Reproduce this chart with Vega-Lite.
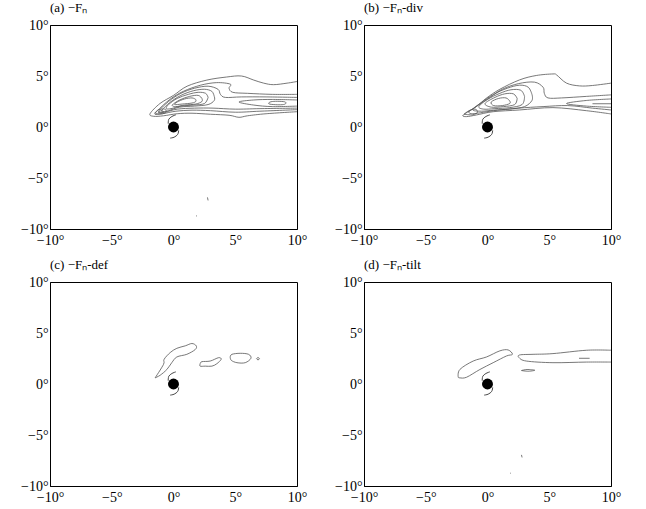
{
"$schema": "https://vega.github.io/schema/vega-lite/v6.json",
"background": "white",
"padding": {"left": 20, "top": 1, "right": 5, "bottom": 5},
"config": {
  "view": {"stroke": "black", "strokeWidth": 1},
  "font": "Liberation Serif"
},
"data": {"values": [
{"panel":"a","kind":"c","id":"a1","seq":1,"x":10,"y":4.46},{"panel":"a","kind":"c","id":"a1","seq":2,"x":9.2,"y":4.3},{"panel":"a","kind":"c","id":"a1","seq":3,"x":8.1,"y":4.15},{"panel":"a","kind":"c","id":"a1","seq":4,"x":7.3,"y":4.3},{"panel":"a","kind":"c","id":"a1","seq":5,"x":6.5,"y":4.6},{"panel":"a","kind":"c","id":"a1","seq":6,"x":5.5,"y":5.0},{"panel":"a","kind":"c","id":"a1","seq":7,"x":4.3,"y":4.9},{"panel":"a","kind":"c","id":"a1","seq":8,"x":2.7,"y":4.6},{"panel":"a","kind":"c","id":"a1","seq":9,"x":1.1,"y":4.0},{"panel":"a","kind":"c","id":"a1","seq":10,"x":0,"y":3.1},{"panel":"a","kind":"c","id":"a1","seq":11,"x":-1.1,"y":2.3},{"panel":"a","kind":"c","id":"a1","seq":12,"x":-1.9,"y":1.3},{"panel":"a","kind":"c","id":"a1","seq":13,"x":-1.6,"y":1.05},{"panel":"a","kind":"c","id":"a1","seq":14,"x":-0.8,"y":1.1},{"panel":"a","kind":"c","id":"a1","seq":15,"x":0.3,"y":1.3},{"panel":"a","kind":"c","id":"a1","seq":16,"x":1.5,"y":1.35},{"panel":"a","kind":"c","id":"a1","seq":17,"x":3,"y":1.25},{"panel":"a","kind":"c","id":"a1","seq":18,"x":4.5,"y":1.15},{"panel":"a","kind":"c","id":"a1","seq":19,"x":5.3,"y":0.95},{"panel":"a","kind":"c","id":"a1","seq":20,"x":6,"y":1.1},{"panel":"a","kind":"c","id":"a1","seq":21,"x":7.5,"y":1.3},{"panel":"a","kind":"c","id":"a1","seq":22,"x":10,"y":1.5},
{"panel":"a","kind":"c","id":"a2","seq":1,"x":10,"y":3.2},{"panel":"a","kind":"c","id":"a2","seq":2,"x":8,"y":3.2},{"panel":"a","kind":"c","id":"a2","seq":3,"x":6,"y":3.3},{"panel":"a","kind":"c","id":"a2","seq":4,"x":4.8,"y":3.4},{"panel":"a","kind":"c","id":"a2","seq":5,"x":4.5,"y":3.8},{"panel":"a","kind":"c","id":"a2","seq":6,"x":4.6,"y":4.2},{"panel":"a","kind":"c","id":"a2","seq":7,"x":3.5,"y":4.35},{"panel":"a","kind":"c","id":"a2","seq":8,"x":2.2,"y":4.1},{"panel":"a","kind":"c","id":"a2","seq":9,"x":0.8,"y":3.5},{"panel":"a","kind":"c","id":"a2","seq":10,"x":-0.3,"y":2.7},{"panel":"a","kind":"c","id":"a2","seq":11,"x":-1.3,"y":1.6},{"panel":"a","kind":"c","id":"a2","seq":12,"x":-1.5,"y":1.25},{"panel":"a","kind":"c","id":"a2","seq":13,"x":-0.9,"y":1.3},{"panel":"a","kind":"c","id":"a2","seq":14,"x":0.2,"y":1.55},{"panel":"a","kind":"c","id":"a2","seq":15,"x":1.5,"y":1.65},{"panel":"a","kind":"c","id":"a2","seq":16,"x":3,"y":1.6},{"panel":"a","kind":"c","id":"a2","seq":17,"x":5,"y":1.45},{"panel":"a","kind":"c","id":"a2","seq":18,"x":7,"y":1.55},{"panel":"a","kind":"c","id":"a2","seq":19,"x":10,"y":1.7},
{"panel":"a","kind":"c","id":"a3","seq":1,"x":10,"y":2.9},{"panel":"a","kind":"c","id":"a3","seq":2,"x":7.5,"y":2.95},{"panel":"a","kind":"c","id":"a3","seq":3,"x":5.5,"y":2.95},{"panel":"a","kind":"c","id":"a3","seq":4,"x":4.2,"y":2.9},{"panel":"a","kind":"c","id":"a3","seq":5,"x":3.8,"y":3.2},{"panel":"a","kind":"c","id":"a3","seq":6,"x":3.6,"y":3.7},{"panel":"a","kind":"c","id":"a3","seq":7,"x":2.8,"y":4.0},{"panel":"a","kind":"c","id":"a3","seq":8,"x":1.7,"y":3.8},{"panel":"a","kind":"c","id":"a3","seq":9,"x":0.6,"y":3.3},{"panel":"a","kind":"c","id":"a3","seq":10,"x":-0.4,"y":2.5},{"panel":"a","kind":"c","id":"a3","seq":11,"x":-1.1,"y":1.7},{"panel":"a","kind":"c","id":"a3","seq":12,"x":-1.2,"y":1.4},{"panel":"a","kind":"c","id":"a3","seq":13,"x":-0.7,"y":1.45},{"panel":"a","kind":"c","id":"a3","seq":14,"x":0.3,"y":1.75},{"panel":"a","kind":"c","id":"a3","seq":15,"x":1.7,"y":1.85},{"panel":"a","kind":"c","id":"a3","seq":16,"x":3.2,"y":1.85},{"panel":"a","kind":"c","id":"a3","seq":17,"x":5,"y":1.75},{"panel":"a","kind":"c","id":"a3","seq":18,"x":7,"y":1.8},{"panel":"a","kind":"c","id":"a3","seq":19,"x":10,"y":1.85},
{"panel":"a","kind":"c","id":"a4","seq":1,"x":10,"y":2.65},{"panel":"a","kind":"c","id":"a4","seq":2,"x":8,"y":2.7},{"panel":"a","kind":"c","id":"a4","seq":3,"x":6.5,"y":2.65},{"panel":"a","kind":"c","id":"a4","seq":4,"x":5.3,"y":2.45},{"panel":"a","kind":"c","id":"a4","seq":5,"x":6.5,"y":2.15},{"panel":"a","kind":"c","id":"a4","seq":6,"x":8,"y":2.0},{"panel":"a","kind":"c","id":"a4","seq":7,"x":10,"y":2.05},
{"panel":"a","kind":"c","id":"a5","seq":1,"x":7.7,"y":2.35},{"panel":"a","kind":"c","id":"a5","seq":2,"x":7.9,"y":2.48},{"panel":"a","kind":"c","id":"a5","seq":3,"x":8.4,"y":2.52},{"panel":"a","kind":"c","id":"a5","seq":4,"x":9.0,"y":2.47},{"panel":"a","kind":"c","id":"a5","seq":5,"x":9.1,"y":2.32},{"panel":"a","kind":"c","id":"a5","seq":6,"x":8.9,"y":2.2},{"panel":"a","kind":"c","id":"a5","seq":7,"x":8.4,"y":2.18},{"panel":"a","kind":"c","id":"a5","seq":8,"x":7.8,"y":2.24},{"panel":"a","kind":"c","id":"a5","seq":9,"x":7.7,"y":2.35},
{"panel":"a","kind":"c","id":"a6","seq":1,"x":3.3,"y":3.0},{"panel":"a","kind":"c","id":"a6","seq":2,"x":3.1,"y":3.5},{"panel":"a","kind":"c","id":"a6","seq":3,"x":2.5,"y":3.7},{"panel":"a","kind":"c","id":"a6","seq":4,"x":1.6,"y":3.55},{"panel":"a","kind":"c","id":"a6","seq":5,"x":0.6,"y":3.1},{"panel":"a","kind":"c","id":"a6","seq":6,"x":-0.3,"y":2.4},{"panel":"a","kind":"c","id":"a6","seq":7,"x":-0.9,"y":1.7},{"panel":"a","kind":"c","id":"a6","seq":8,"x":-0.9,"y":1.5},{"panel":"a","kind":"c","id":"a6","seq":9,"x":-0.4,"y":1.6},{"panel":"a","kind":"c","id":"a6","seq":10,"x":0.5,"y":1.95},{"panel":"a","kind":"c","id":"a6","seq":11,"x":1.7,"y":2.05},{"panel":"a","kind":"c","id":"a6","seq":12,"x":2.8,"y":2.2},{"panel":"a","kind":"c","id":"a6","seq":13,"x":3.3,"y":2.6},{"panel":"a","kind":"c","id":"a6","seq":14,"x":3.3,"y":3.0},
{"panel":"a","kind":"c","id":"a7","seq":1,"x":2.8,"y":2.9},{"panel":"a","kind":"c","id":"a7","seq":2,"x":2.6,"y":3.3},{"panel":"a","kind":"c","id":"a7","seq":3,"x":2.0,"y":3.4},{"panel":"a","kind":"c","id":"a7","seq":4,"x":1.2,"y":3.2},{"panel":"a","kind":"c","id":"a7","seq":5,"x":0.3,"y":2.8},{"panel":"a","kind":"c","id":"a7","seq":6,"x":-0.4,"y":2.2},{"panel":"a","kind":"c","id":"a7","seq":7,"x":-0.6,"y":1.8},{"panel":"a","kind":"c","id":"a7","seq":8,"x":-0.2,"y":1.8},{"panel":"a","kind":"c","id":"a7","seq":9,"x":0.6,"y":2.05},{"panel":"a","kind":"c","id":"a7","seq":10,"x":1.6,"y":2.15},{"panel":"a","kind":"c","id":"a7","seq":11,"x":2.5,"y":2.3},{"panel":"a","kind":"c","id":"a7","seq":12,"x":2.8,"y":2.9},
{"panel":"a","kind":"c","id":"a8","seq":1,"x":2.3,"y":2.8},{"panel":"a","kind":"c","id":"a8","seq":2,"x":2.0,"y":3.1},{"panel":"a","kind":"c","id":"a8","seq":3,"x":1.3,"y":3.0},{"panel":"a","kind":"c","id":"a8","seq":4,"x":0.5,"y":2.65},{"panel":"a","kind":"c","id":"a8","seq":5,"x":-0.1,"y":2.15},{"panel":"a","kind":"c","id":"a8","seq":6,"x":0.2,"y":2.0},{"panel":"a","kind":"c","id":"a8","seq":7,"x":0.9,"y":2.15},{"panel":"a","kind":"c","id":"a8","seq":8,"x":1.8,"y":2.25},{"panel":"a","kind":"c","id":"a8","seq":9,"x":2.3,"y":2.5},{"panel":"a","kind":"c","id":"a8","seq":10,"x":2.3,"y":2.8},
{"panel":"a","kind":"c","id":"a9","seq":1,"x":1.8,"y":2.7},{"panel":"a","kind":"c","id":"a9","seq":2,"x":1.5,"y":2.85},{"panel":"a","kind":"c","id":"a9","seq":3,"x":0.9,"y":2.75},{"panel":"a","kind":"c","id":"a9","seq":4,"x":0.3,"y":2.45},{"panel":"a","kind":"c","id":"a9","seq":5,"x":0.1,"y":2.2},{"panel":"a","kind":"c","id":"a9","seq":6,"x":0.7,"y":2.25},{"panel":"a","kind":"c","id":"a9","seq":7,"x":1.5,"y":2.35},{"panel":"a","kind":"c","id":"a9","seq":8,"x":1.8,"y":2.5},{"panel":"a","kind":"c","id":"a9","seq":9,"x":1.8,"y":2.7},
{"panel":"a","kind":"c","id":"a10","seq":1,"x":-1.5,"y":1.4},{"panel":"a","kind":"c","id":"a10","seq":2,"x":-1.2,"y":1.7},{"panel":"a","kind":"c","id":"a10","seq":3,"x":-0.7,"y":1.75},{"panel":"a","kind":"c","id":"a10","seq":4,"x":-0.6,"y":1.45},{"panel":"a","kind":"c","id":"a10","seq":5,"x":-0.9,"y":1.3},{"panel":"a","kind":"c","id":"a10","seq":6,"x":-1.3,"y":1.3},{"panel":"a","kind":"c","id":"a10","seq":7,"x":-1.5,"y":1.4},
{"panel":"a","kind":"c","id":"a11","seq":1,"x":-1.2,"y":1.45},{"panel":"a","kind":"c","id":"a11","seq":2,"x":-1.0,"y":1.6},{"panel":"a","kind":"c","id":"a11","seq":3,"x":-0.8,"y":1.5},{"panel":"a","kind":"c","id":"a11","seq":4,"x":-1.0,"y":1.4},{"panel":"a","kind":"c","id":"a11","seq":5,"x":-1.2,"y":1.45},
{"panel":"a","kind":"c","id":"a12","seq":1,"x":2.75,"y":-6.9},{"panel":"a","kind":"c","id":"a12","seq":2,"x":2.8,"y":-7.2},
{"panel":"a","kind":"c","id":"a13","seq":1,"x":1.83,"y":-8.68},{"panel":"a","kind":"c","id":"a13","seq":2,"x":1.9,"y":-8.76},
{"panel":"b","kind":"c","id":"b1","seq":1,"x":10,"y":4.3},{"panel":"b","kind":"c","id":"b1","seq":2,"x":8.5,"y":4.07},{"panel":"b","kind":"c","id":"b1","seq":3,"x":7.45,"y":4.03},{"panel":"b","kind":"c","id":"b1","seq":4,"x":6.4,"y":4.3},{"panel":"b","kind":"c","id":"b1","seq":5,"x":5.6,"y":5.1},{"panel":"b","kind":"c","id":"b1","seq":6,"x":5.3,"y":5.2},{"panel":"b","kind":"c","id":"b1","seq":7,"x":3.95,"y":5.05},{"panel":"b","kind":"c","id":"b1","seq":8,"x":2.6,"y":4.62},{"panel":"b","kind":"c","id":"b1","seq":9,"x":1.0,"y":3.7},{"panel":"b","kind":"c","id":"b1","seq":10,"x":-0.1,"y":2.82},{"panel":"b","kind":"c","id":"b1","seq":11,"x":-0.9,"y":2.0},{"panel":"b","kind":"c","id":"b1","seq":12,"x":-1.96,"y":1.18},{"panel":"b","kind":"c","id":"b1","seq":13,"x":-1.7,"y":1.02},{"panel":"b","kind":"c","id":"b1","seq":14,"x":-0.9,"y":1.18},{"panel":"b","kind":"c","id":"b1","seq":15,"x":0.46,"y":1.5},{"panel":"b","kind":"c","id":"b1","seq":16,"x":2.6,"y":1.67},{"panel":"b","kind":"c","id":"b1","seq":17,"x":5.3,"y":1.9},{"panel":"b","kind":"c","id":"b1","seq":18,"x":8,"y":1.6},{"panel":"b","kind":"c","id":"b1","seq":19,"x":10,"y":1.28},
{"panel":"b","kind":"c","id":"b2","seq":1,"x":10,"y":3.15},{"panel":"b","kind":"c","id":"b2","seq":2,"x":8,"y":3.0},{"panel":"b","kind":"c","id":"b2","seq":3,"x":6,"y":2.85},{"panel":"b","kind":"c","id":"b2","seq":4,"x":4.9,"y":2.85},{"panel":"b","kind":"c","id":"b2","seq":5,"x":4.6,"y":3.3},{"panel":"b","kind":"c","id":"b2","seq":6,"x":4.5,"y":3.9},{"panel":"b","kind":"c","id":"b2","seq":7,"x":3.8,"y":4.4},{"panel":"b","kind":"c","id":"b2","seq":8,"x":2.5,"y":4.25},{"panel":"b","kind":"c","id":"b2","seq":9,"x":1.2,"y":3.7},{"panel":"b","kind":"c","id":"b2","seq":10,"x":0.2,"y":2.9},{"panel":"b","kind":"c","id":"b2","seq":11,"x":-0.8,"y":2.1},{"panel":"b","kind":"c","id":"b2","seq":12,"x":-1.5,"y":1.5},{"panel":"b","kind":"c","id":"b2","seq":13,"x":-1.2,"y":1.3},{"panel":"b","kind":"c","id":"b2","seq":14,"x":-0.3,"y":1.45},{"panel":"b","kind":"c","id":"b2","seq":15,"x":0.8,"y":1.65},{"panel":"b","kind":"c","id":"b2","seq":16,"x":2.5,"y":1.85},{"panel":"b","kind":"c","id":"b2","seq":17,"x":4.5,"y":2.0},{"panel":"b","kind":"c","id":"b2","seq":18,"x":6.5,"y":2.1},{"panel":"b","kind":"c","id":"b2","seq":19,"x":8.5,"y":1.85},{"panel":"b","kind":"c","id":"b2","seq":20,"x":10,"y":1.67},
{"panel":"b","kind":"c","id":"b3","seq":1,"x":10,"y":2.75},{"panel":"b","kind":"c","id":"b3","seq":2,"x":8,"y":2.6},{"panel":"b","kind":"c","id":"b3","seq":3,"x":6.4,"y":2.3},{"panel":"b","kind":"c","id":"b3","seq":4,"x":8,"y":2.05},{"panel":"b","kind":"c","id":"b3","seq":5,"x":10,"y":1.93},
{"panel":"b","kind":"c","id":"b9","seq":1,"x":8.5,"y":2.28},{"panel":"b","kind":"c","id":"b9","seq":2,"x":10,"y":2.28},
{"panel":"b","kind":"c","id":"b4","seq":1,"x":3.6,"y":3.2},{"panel":"b","kind":"c","id":"b4","seq":2,"x":3.3,"y":3.9},{"panel":"b","kind":"c","id":"b4","seq":3,"x":2.6,"y":4.1},{"panel":"b","kind":"c","id":"b4","seq":4,"x":1.6,"y":3.8},{"panel":"b","kind":"c","id":"b4","seq":5,"x":0.5,"y":3.2},{"panel":"b","kind":"c","id":"b4","seq":6,"x":-0.5,"y":2.4},{"panel":"b","kind":"c","id":"b4","seq":7,"x":-1.2,"y":1.7},{"panel":"b","kind":"c","id":"b4","seq":8,"x":-0.5,"y":1.55},{"panel":"b","kind":"c","id":"b4","seq":9,"x":0.5,"y":1.65},{"panel":"b","kind":"c","id":"b4","seq":10,"x":1.8,"y":1.75},{"panel":"b","kind":"c","id":"b4","seq":11,"x":3.0,"y":2.0},{"panel":"b","kind":"c","id":"b4","seq":12,"x":3.6,"y":2.6},{"panel":"b","kind":"c","id":"b4","seq":13,"x":3.6,"y":3.2},
{"panel":"b","kind":"c","id":"b5","seq":1,"x":3.0,"y":3.0},{"panel":"b","kind":"c","id":"b5","seq":2,"x":2.7,"y":3.6},{"panel":"b","kind":"c","id":"b5","seq":3,"x":1.9,"y":3.65},{"panel":"b","kind":"c","id":"b5","seq":4,"x":1.0,"y":3.3},{"panel":"b","kind":"c","id":"b5","seq":5,"x":0.0,"y":2.7},{"panel":"b","kind":"c","id":"b5","seq":6,"x":-0.7,"y":2.0},{"panel":"b","kind":"c","id":"b5","seq":7,"x":-0.3,"y":1.75},{"panel":"b","kind":"c","id":"b5","seq":8,"x":0.6,"y":1.8},{"panel":"b","kind":"c","id":"b5","seq":9,"x":1.8,"y":1.9},{"panel":"b","kind":"c","id":"b5","seq":10,"x":2.8,"y":2.2},{"panel":"b","kind":"c","id":"b5","seq":11,"x":3.0,"y":3.0},
{"panel":"b","kind":"c","id":"b6","seq":1,"x":2.4,"y":2.8},{"panel":"b","kind":"c","id":"b6","seq":2,"x":2.1,"y":3.25},{"panel":"b","kind":"c","id":"b6","seq":3,"x":1.4,"y":3.25},{"panel":"b","kind":"c","id":"b6","seq":4,"x":0.6,"y":2.9},{"panel":"b","kind":"c","id":"b6","seq":5,"x":-0.2,"y":2.3},{"panel":"b","kind":"c","id":"b6","seq":6,"x":0.3,"y":1.95},{"panel":"b","kind":"c","id":"b6","seq":7,"x":1.3,"y":2.0},{"panel":"b","kind":"c","id":"b6","seq":8,"x":2.2,"y":2.2},{"panel":"b","kind":"c","id":"b6","seq":9,"x":2.4,"y":2.8},
{"panel":"b","kind":"c","id":"b7","seq":1,"x":1.8,"y":2.55},{"panel":"b","kind":"c","id":"b7","seq":2,"x":1.5,"y":2.85},{"panel":"b","kind":"c","id":"b7","seq":3,"x":0.9,"y":2.8},{"panel":"b","kind":"c","id":"b7","seq":4,"x":0.3,"y":2.45},{"panel":"b","kind":"c","id":"b7","seq":5,"x":0.5,"y":2.1},{"panel":"b","kind":"c","id":"b7","seq":6,"x":1.2,"y":2.1},{"panel":"b","kind":"c","id":"b7","seq":7,"x":1.8,"y":2.3},{"panel":"b","kind":"c","id":"b7","seq":8,"x":1.8,"y":2.55},
{"panel":"b","kind":"c","id":"b8","seq":1,"x":-1.9,"y":1.25},{"panel":"b","kind":"c","id":"b8","seq":2,"x":-1.5,"y":1.6},{"panel":"b","kind":"c","id":"b8","seq":3,"x":-1.0,"y":1.75},{"panel":"b","kind":"c","id":"b8","seq":4,"x":-0.8,"y":1.45},{"panel":"b","kind":"c","id":"b8","seq":5,"x":-1.2,"y":1.2},{"panel":"b","kind":"c","id":"b8","seq":6,"x":-1.9,"y":1.25},
{"panel":"c","kind":"c","id":"c1","seq":1,"x":-1.49,"y":0.6},{"panel":"c","kind":"c","id":"c1","seq":2,"x":-0.81,"y":1.92},{"panel":"c","kind":"c","id":"c1","seq":3,"x":-0.76,"y":2.42},{"panel":"c","kind":"c","id":"c1","seq":4,"x":-0.27,"y":3.08},{"panel":"c","kind":"c","id":"c1","seq":5,"x":0.27,"y":3.5},{"panel":"c","kind":"c","id":"c1","seq":6,"x":0.95,"y":3.74},{"panel":"c","kind":"c","id":"c1","seq":7,"x":1.49,"y":3.97},{"panel":"c","kind":"c","id":"c1","seq":8,"x":1.84,"y":3.74},{"panel":"c","kind":"c","id":"c1","seq":9,"x":1.76,"y":3.38},{"panel":"c","kind":"c","id":"c1","seq":10,"x":1.08,"y":2.91},{"panel":"c","kind":"c","id":"c1","seq":11,"x":0.27,"y":2.65},{"panel":"c","kind":"c","id":"c1","seq":12,"x":-0.14,"y":2.09},{"panel":"c","kind":"c","id":"c1","seq":13,"x":-0.54,"y":1.42},{"panel":"c","kind":"c","id":"c1","seq":14,"x":-1.08,"y":0.86},{"panel":"c","kind":"c","id":"c1","seq":15,"x":-1.49,"y":0.6},
{"panel":"c","kind":"c","id":"c2","seq":1,"x":2.16,"y":1.99},{"panel":"c","kind":"c","id":"c2","seq":2,"x":2.3,"y":2.19},{"panel":"c","kind":"c","id":"c2","seq":3,"x":2.97,"y":2.25},{"panel":"c","kind":"c","id":"c2","seq":4,"x":3.65,"y":2.58},{"panel":"c","kind":"c","id":"c2","seq":5,"x":3.86,"y":2.42},{"panel":"c","kind":"c","id":"c2","seq":6,"x":3.51,"y":1.99},{"panel":"c","kind":"c","id":"c2","seq":7,"x":3.11,"y":1.75},{"panel":"c","kind":"c","id":"c2","seq":8,"x":2.57,"y":1.75},{"panel":"c","kind":"c","id":"c2","seq":9,"x":2.16,"y":1.75},{"panel":"c","kind":"c","id":"c2","seq":10,"x":2.16,"y":1.99},
{"panel":"c","kind":"c","id":"c3","seq":1,"x":4.59,"y":2.65},{"panel":"c","kind":"c","id":"c3","seq":2,"x":4.73,"y":2.91},{"panel":"c","kind":"c","id":"c3","seq":3,"x":5.4,"y":3.01},{"panel":"c","kind":"c","id":"c3","seq":4,"x":6.08,"y":2.91},{"panel":"c","kind":"c","id":"c3","seq":5,"x":6.27,"y":2.52},{"panel":"c","kind":"c","id":"c3","seq":6,"x":5.81,"y":2.09},{"panel":"c","kind":"c","id":"c3","seq":7,"x":5.14,"y":2.09},{"panel":"c","kind":"c","id":"c3","seq":8,"x":4.68,"y":2.32},{"panel":"c","kind":"c","id":"c3","seq":9,"x":4.59,"y":2.65},
{"panel":"c","kind":"c","id":"c4","seq":1,"x":6.72,"y":2.48},{"panel":"c","kind":"c","id":"c4","seq":2,"x":6.84,"y":2.6},{"panel":"c","kind":"c","id":"c4","seq":3,"x":6.96,"y":2.48},{"panel":"c","kind":"c","id":"c4","seq":4,"x":6.84,"y":2.36},{"panel":"c","kind":"c","id":"c4","seq":5,"x":6.72,"y":2.48},
{"panel":"d","kind":"c","id":"d1","seq":1,"x":-2.37,"y":0.66},{"panel":"d","kind":"c","id":"d1","seq":2,"x":-2.24,"y":1.42},{"panel":"d","kind":"c","id":"d1","seq":3,"x":-1.16,"y":2.25},{"panel":"d","kind":"c","id":"d1","seq":4,"x":-0.08,"y":2.65},{"panel":"d","kind":"c","id":"d1","seq":5,"x":1.0,"y":3.25},{"panel":"d","kind":"c","id":"d1","seq":6,"x":1.67,"y":3.34},{"panel":"d","kind":"c","id":"d1","seq":7,"x":2.02,"y":2.91},{"panel":"d","kind":"c","id":"d1","seq":8,"x":1.54,"y":2.75},{"panel":"d","kind":"c","id":"d1","seq":9,"x":0.46,"y":2.09},{"panel":"d","kind":"c","id":"d1","seq":10,"x":-0.62,"y":1.42},{"panel":"d","kind":"c","id":"d1","seq":11,"x":-1.7,"y":0.66},{"panel":"d","kind":"c","id":"d1","seq":12,"x":-2.24,"y":0.6},{"panel":"d","kind":"c","id":"d1","seq":13,"x":-2.37,"y":0.66},
{"panel":"d","kind":"c","id":"d2","seq":1,"x":10,"y":3.31},{"panel":"d","kind":"c","id":"d2","seq":2,"x":8.03,"y":3.31},{"panel":"d","kind":"c","id":"d2","seq":3,"x":5.3,"y":2.98},{"panel":"d","kind":"c","id":"d2","seq":4,"x":3.69,"y":2.91},{"panel":"d","kind":"c","id":"d2","seq":5,"x":2.61,"y":2.85},{"panel":"d","kind":"c","id":"d2","seq":6,"x":2.56,"y":2.58},{"panel":"d","kind":"c","id":"d2","seq":7,"x":3.15,"y":2.25},{"panel":"d","kind":"c","id":"d2","seq":8,"x":5.3,"y":2.09},{"panel":"d","kind":"c","id":"d2","seq":9,"x":8.03,"y":2.15},{"panel":"d","kind":"c","id":"d2","seq":10,"x":10,"y":2.15},
{"panel":"d","kind":"c","id":"d3","seq":1,"x":7.41,"y":2.52},{"panel":"d","kind":"c","id":"d3","seq":2,"x":8.27,"y":2.52},
{"panel":"d","kind":"c","id":"d4","seq":1,"x":2.75,"y":1.32},{"panel":"d","kind":"c","id":"d4","seq":2,"x":3.2,"y":1.42},{"panel":"d","kind":"c","id":"d4","seq":3,"x":3.83,"y":1.35},{"panel":"d","kind":"c","id":"d4","seq":4,"x":3.3,"y":1.25},{"panel":"d","kind":"c","id":"d4","seq":5,"x":2.75,"y":1.32},
{"panel":"d","kind":"c","id":"d5","seq":1,"x":2.75,"y":-6.95},{"panel":"d","kind":"c","id":"d5","seq":2,"x":2.8,"y":-7.2},
{"panel":"d","kind":"c","id":"d6","seq":1,"x":1.84,"y":-8.72},{"panel":"d","kind":"c","id":"d6","seq":2,"x":1.9,"y":-8.78},
{"panel":"a","kind":"eye","id":"e","seq":1,"x":0,"y":0},{"panel":"b","kind":"eye","id":"e","seq":1,"x":0,"y":0},{"panel":"c","kind":"eye","id":"e","seq":1,"x":0,"y":0},{"panel":"d","kind":"eye","id":"e","seq":1,"x":0,"y":0},
{"panel":"a","kind":"t","id":"t1","seq":1,"x":-0.43,"y":0.33},{"panel":"a","kind":"t","id":"t1","seq":2,"x":-0.38,"y":0.76},{"panel":"a","kind":"t","id":"t1","seq":3,"x":-0.13,"y":1.03},{"panel":"a","kind":"t","id":"t1","seq":4,"x":0.19,"y":1.19},
{"panel":"a","kind":"t","id":"t2","seq":1,"x":0.42,"y":-0.33},{"panel":"a","kind":"t","id":"t2","seq":2,"x":0.34,"y":-0.73},{"panel":"a","kind":"t","id":"t2","seq":3,"x":0.05,"y":-1.0},{"panel":"a","kind":"t","id":"t2","seq":4,"x":-0.27,"y":-1.09},
{"panel":"b","kind":"t","id":"t1","seq":1,"x":-0.43,"y":0.33},{"panel":"b","kind":"t","id":"t1","seq":2,"x":-0.38,"y":0.76},{"panel":"b","kind":"t","id":"t1","seq":3,"x":-0.13,"y":1.03},{"panel":"b","kind":"t","id":"t1","seq":4,"x":0.19,"y":1.19},
{"panel":"b","kind":"t","id":"t2","seq":1,"x":0.42,"y":-0.33},{"panel":"b","kind":"t","id":"t2","seq":2,"x":0.34,"y":-0.73},{"panel":"b","kind":"t","id":"t2","seq":3,"x":0.05,"y":-1.0},{"panel":"b","kind":"t","id":"t2","seq":4,"x":-0.27,"y":-1.09},
{"panel":"c","kind":"t","id":"t1","seq":1,"x":-0.43,"y":0.33},{"panel":"c","kind":"t","id":"t1","seq":2,"x":-0.38,"y":0.76},{"panel":"c","kind":"t","id":"t1","seq":3,"x":-0.13,"y":1.03},{"panel":"c","kind":"t","id":"t1","seq":4,"x":0.19,"y":1.19},
{"panel":"c","kind":"t","id":"t2","seq":1,"x":0.42,"y":-0.33},{"panel":"c","kind":"t","id":"t2","seq":2,"x":0.34,"y":-0.73},{"panel":"c","kind":"t","id":"t2","seq":3,"x":0.05,"y":-1.0},{"panel":"c","kind":"t","id":"t2","seq":4,"x":-0.27,"y":-1.09},
{"panel":"d","kind":"t","id":"t1","seq":1,"x":-0.43,"y":0.33},{"panel":"d","kind":"t","id":"t1","seq":2,"x":-0.38,"y":0.76},{"panel":"d","kind":"t","id":"t1","seq":3,"x":-0.13,"y":1.03},{"panel":"d","kind":"t","id":"t1","seq":4,"x":0.19,"y":1.19},
{"panel":"d","kind":"t","id":"t2","seq":1,"x":0.42,"y":-0.33},{"panel":"d","kind":"t","id":"t2","seq":2,"x":0.34,"y":-0.73},{"panel":"d","kind":"t","id":"t2","seq":3,"x":0.05,"y":-1.0},{"panel":"d","kind":"t","id":"t2","seq":4,"x":-0.27,"y":-1.09}
]},
"columns": 2,
"spacing": {"column": 67, "row": 53},
"bounds": "flush",
"facet": {
  "field": "panel", "type": "nominal",
  "header": {
    "title": null,
    "labelOrient": "top",
    "labelAnchor": "start",
    "labelFont": "Liberation Serif",
    "labelFontSize": 13,
    "labelColor": "black",
    "labelPadding": 3,
    "labelExpr": "datum.value == 'a' ? '(a) −Fₙ' : datum.value == 'b' ? '(b) −Fₙ-div' : datum.value == 'c' ? '(c) −Fₙ-def' : '(d) −Fₙ-tilt'"
  }
},
"resolve": {"axis": {"x": "independent", "y": "independent"}},
"spec": {
  "width": 247,
  "height": 204,
  "encoding": {
    "x": {"field": "x", "type": "quantitative", "scale": {"domain": [-10, 10], "nice": false},
      "axis": {"title": null, "values": [-10, -5, 0, 5, 10], "grid": false, "ticks": false, "labelPadding": 4, "labelFlush": false, "labelOverlap": false, "labelFont": "Liberation Serif", "labelFontSize": 14, "labelColor": "black", "domainColor": "black", "labelExpr": "format(datum.value, 'd') + '°'"}},
    "y": {"field": "y", "type": "quantitative", "scale": {"domain": [-10, 10], "nice": false},
      "axis": {"title": null, "values": [-10, -5, 0, 5, 10], "grid": false, "ticks": false, "labelPadding": 2, "labelFlush": false, "labelOverlap": false, "labelFont": "Liberation Serif", "labelFontSize": 14, "labelColor": "black", "domainColor": "black", "labelExpr": "format(datum.value, 'd') + '°'"}}
  },
  "layer": [
    {"transform": [{"filter": "datum.kind == 'c'"}],
     "mark": {"type": "line", "color": "#555555", "strokeWidth": 0.8, "interpolate": "cardinal", "clip": true},
     "encoding": {"detail": {"field": "id"}, "order": {"field": "seq", "type": "quantitative"}}},
    {"transform": [{"filter": "datum.kind == 't'"}],
     "mark": {"type": "line", "color": "#333333", "strokeWidth": 0.9, "interpolate": "cardinal"},
     "encoding": {"detail": {"field": "id"}, "order": {"field": "seq", "type": "quantitative"}}},
    {"transform": [{"filter": "datum.kind == 'eye'"}],
     "mark": {"type": "point", "filled": true, "color": "black", "opacity": 1, "size": 120},
     "encoding": {}}
  ]
}
}
